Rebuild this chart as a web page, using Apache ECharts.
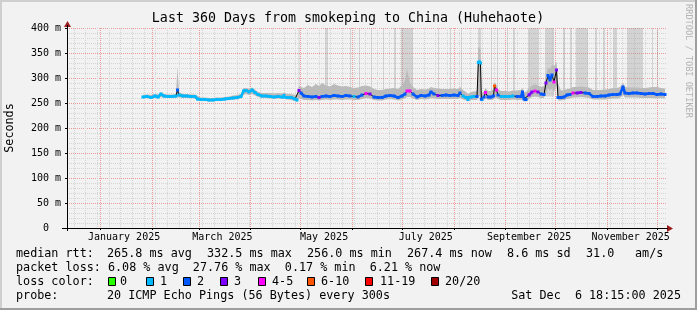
<!DOCTYPE html>
<html><head><meta charset="utf-8">
<script src="https://cdn.jsdelivr.net/npm/echarts@6/dist/echarts.min.js"></script>
<style>html,body{margin:0;padding:0;background:#f2f2f2}#c{width:697px;height:310px}</style>
</head><body><div id="c"></div>
<script>
// ---------- time frame ----------
const START = Date.UTC(2024, 11, 11, 18, 15);   // 360 days before Sat Dec 6 18:15 2025
const SPAN_DAYS = 360;
function dayOf(s) { return (Date.parse(s + 'T00:00:00Z') - START) / 864e5; }

// ---------- axis labels ----------
const xLabelDates = ['2025-01-15', '2025-03-15', '2025-05-15', '2025-07-15', '2025-09-15', '2025-11-15'];
const xLabelTexts = ['January 2025', 'March 2025', 'May 2025', 'July 2025', 'September 2025', 'November 2025'];
const monthStarts = ['2025-01-01', '2025-02-01', '2025-03-01', '2025-04-01', '2025-05-01', '2025-06-01',
  '2025-07-01', '2025-08-01', '2025-09-01', '2025-10-01', '2025-11-01', '2025-12-01'];
const firstWeekLine = '2024-12-16';
const yMax = 400, yStep = 50;

// ---------- data (days since start, ms) ----------
const days = [45.6,48.0,50.4,52.8,54.6,56.4,58.2,60.6,63.0,65.4,
  66.3,67.2,69.6,72.0,74.4,76.8,78.3,80.4,82.8,85.2,
  87.6,90.0,92.4,94.8,97.2,99.6,102.0,104.4,105.9,107.4,
  109.2,111.0,112.8,114.6,117.0,119.4,121.8,124.2,126.6,129.0,
  130.2,132.0,134.4,136.8,138.0,139.2,140.4,142.2,144.6,147.0,
  149.4,151.2,153.0,155.4,157.8,160.2,162.6,165.0,167.4,169.8,
  172.2,174.6,177.0,179.4,181.8,184.2,186.6,189.0,191.4,193.8,
  196.2,198.6,201.0,202.8,204.0,205.8,207.6,210.0,212.4,214.8,
  217.2,218.4,220.2,222.6,225.0,227.4,229.8,232.2,234.6,235.8,
  237.6,239.4,240.6,242.4,244.2,246.0,246.8,247.4,248.1,248.6,
  249.0,250.2,251.1,252.6,254.4,255.9,256.5,257.7,258.6,260.4,
  262.8,265.2,267.6,270.0,272.4,273.3,274.2,275.4,277.2,279.0,
  280.8,282.6,284.4,286.2,287.4,288.6,289.8,291.0,292.2,293.7,
  294.6,296.4,298.2,300.0,301.8,303.6,306.0,308.4,310.8,313.2,
  315.6,318.0,320.4,322.8,325.2,327.6,330.0,331.8,333.6,334.8,
  337.2,339.6,342.0,344.4,346.8,349.2,351.6,354.0,356.4,358.8];
const median = [262,263,261,264,262,268,264,263,263,264,
  276,266,264,264,263,263,258,257,257,256,
  256,257,257,258,259,260,261,263,274,275,
  272,276,271,267,264,264,263,262,263,262,
  265,261,261,258,256,275,270,264,263,262,
  263,261,263,264,263,265,264,263,265,264,
  263,262,266,269,268,262,261,261,264,265,
  264,261,264,268,274,274,268,262,265,264,
  266,272,268,265,265,266,265,266,265,270,
  264,261,257,262,263,263,331,332.5,330,258,
  257,262,271,262,262,264,284,276,266,263,
  263,263,264,263,263,272,258,257,266,272,
  274,272,268,267,290,305,296,306,292,316,
  261,261,262,266,267,270,270,271,270,269,
  263,263,264,264,266,267,267,268,282,270,
  269,270,270,269,268,269,269,267,268,267];
// loss class index: 0:"0" 1:"1" 2:"2" 3:"3" 4:"4-5" 5:"6-10" 6:"11-19" 7:"20/20"
const lossCat = [1,1,1,1,1,1,1,1,1,1,
  2,1,1,1,1,1,1,1,1,1,
  1,1,1,1,1,1,1,1,1,1,
  1,1,1,1,1,1,1,1,1,1,
  1,1,1,1,1,3,2,2,2,2,
  2,3,2,2,2,2,2,2,2,2,
  1,2,2,4,3,2,2,2,2,2,
  2,2,2,2,4,4,2,2,2,2,
  2,2,2,3,2,2,2,2,2,2,
  1,1,1,1,1,2,1,1,1,2,
  1,2,4,2,2,2,5,4,2,1,
  1,1,1,2,2,2,2,2,3,3,
  4,3,2,2,3,2,2,2,4,3,
  2,2,2,2,2,4,3,3,2,2,
  2,2,2,2,2,2,2,2,2,2,
  2,2,2,2,2,2,2,2,2,2];
const smokeLo = [259,260,258,260,259,262,260,260,260,260,
  262,261,260,260,260,259,255,254,254,253,
  253,254,254,255,256,257,257,259,266,268,
  266,268,265,262,260,260,259,258,259,258,
  259,257,256,254,252,260,258,256,256,255,
  256,255,256,257,256,257,257,256,257,257,
  256,256,258,260,259,256,255,255,257,258,
  257,255,257,259,262,262,259,256,258,257,
  258,260,259,258,258,258,258,258,258,260,
  257,255,253,256,256,256,262,265,262,253,
  253,256,260,256,256,257,262,260,258,256,
  256,256,257,256,256,258,253,253,258,262,
  263,262,260,260,270,280,275,280,272,285,
  255,255,256,258,259,261,261,262,261,260,
  257,257,257,257,258,259,259,260,266,261,
  261,261,261,260,260,260,260,259,260,259];
const smokeHi = [266,267,266,268,267,272,268,267,267,268,
  322,272,268,268,267,267,264,261,261,260,
  260,261,261,262,263,265,266,268,280,280,
  279,281,277,272,270,270,270,269,270,269,
  271,268,268,266,264,284,282,280,286,282,
  288,284,290,285,283,288,285,283,284,282,
  280,281,284,285,283,278,276,276,278,279,
  280,278,285,295,318,290,282,276,278,277,
  279,282,280,279,278,278,278,279,278,282,
  276,272,268,272,273,274,360,362,358,272,
  270,274,280,274,274,278,292,286,278,274,
  274,273,275,275,276,280,272,272,280,285,
  287,285,282,284,305,320,318,326,324,332,
  290,275,276,278,279,282,282,283,282,281,
  276,276,276,277,278,280,280,282,290,282,
  281,281,281,280,280,281,282,282,280,279];
// periods where the smoke reaches beyond the top of the graph (days since start)
const colStart = [138.9,154.8,169.8,175.2,182.4,189.6,196.2,200.4,222.6,229.8,236.4,246.6,254.4,258.0,
  264.0,267.6,276.6,286.8,297.6,301.8,305.4,316.8,321.6,327.6,336.0,351.0,354.0];
const colEnd = [139.5,156.6,170.4,175.8,183.0,190.2,197.4,207.6,223.2,230.4,237.0,248.4,255.0,258.6,
  264.6,268.8,283.2,292.2,298.8,303.0,312.6,318.0,322.8,330.0,345.6,351.6,354.6];
const colBase = 263;

const lossLabels = ['0', '1', '2', '3', '4-5', '6-10', '11-19', '20/20'];
const lossColors = ['#26ff00', '#00b8ff', '#0059ff', '#7e00ff', '#ff00ff', '#ff5500', '#ff0000', '#a10000'];

const legendRtt = ['median rtt:', '265.8 ms avg', '332.5 ms max', '256.0 ms min', '267.4 ms now', '8.6 ms sd', '31.0', 'am/s'];
const legendLoss = 'packet loss: 6.08 % avg  27.76 % max  0.17 % min  6.21 % now';
const probeText = ['probe:', '20 ICMP Echo Pings (56 Bytes) every 300s', 'Sat Dec  6 18:15:00 2025'];
const titleText = 'Last 360 Days from smokeping to China (Huhehaote)';

// ---------- layout ----------
const MONO = '"DejaVu Sans Mono", monospace';
const LFONT = '11.75px ' + MONO;
const GL = 67, GT = 28, GW = 600, GH = 200;
const labelDays = xLabelDates.map(dayOf);
const monthDays = monthStarts.map(dayOf);
const weekDays = [];
for (let d = dayOf(firstWeekLine); d < SPAN_DAYS; d += 7) weekDays.push(d);

const chart = echarts.init(document.getElementById('c'), null, {renderer: 'canvas'});

const series = [];
series.push({
  type: 'custom', xAxisIndex: 1, z: 1, silent: true, clip: true,
  data: colStart.map((s, i) => [s, colEnd[i]]),
  renderItem: function (params, api) {
    const p0 = api.coord([api.value(0), yMax]);
    const p1 = api.coord([api.value(1), colBase]);
    return {type: 'rect', shape: {x: p0[0], y: p0[1], width: Math.max(1, p1[0] - p0[0]), height: p1[1] - p0[1]},
      style: {fill: 'rgba(150,150,150,0.33)'}};
  }
});
// smoke band as one polygon built through the axes
series.push({
  type: 'custom', xAxisIndex: 1, z: 2, silent: true, clip: true,
  data: [[days[0], smokeLo[0]]],
  renderItem: function (params, api) {
    const pts = [];
    for (let i = 0; i < days.length; i++) pts.push(api.coord([days[i], smokeHi[i]]));
    for (let i = days.length - 1; i >= 0; i--) pts.push(api.coord([days[i], smokeLo[i]]));
    return {type: 'polygon', shape: {points: pts}, style: {fill: '#bababa'}};
  }
});
series.push({
  type: 'line', xAxisIndex: 1, z: 3, symbol: 'none', silent: true,
  lineStyle: {color: '#000', width: 1},
  data: days.map((d, i) => [d, median[i]])
});
for (let c = 0; c < lossColors.length; c++) {
  if (!lossCat.includes(c)) continue;
  series.push({
    type: 'line', xAxisIndex: 1, z: 4, silent: true, connectNulls: false,
    symbol: 'rect', symbolSize: [3, 3], showSymbol: true,
    itemStyle: {color: lossColors[c]},
    lineStyle: {color: lossColors[c], width: 2.5},
    data: days.map((d, i) => [d, lossCat[i] === c ? median[i] : null])
  });
}

const graphic = [];
function txt(x, y, text, extra) {
  graphic.push(Object.assign({type: 'text', x: x, y: y, silent: true,
    style: Object.assign({text: text, font: LFONT, fill: '#000', verticalAlign: 'middle', textVerticalAlign: 'middle'},
      (extra && extra.style) || {})}, (extra && extra.el) || {}));
}
// frame
graphic.push({type: 'rect', shape: {x: 0, y: 0, width: 697, height: 2}, style: {fill: '#cfcfcf'}, silent: true});
graphic.push({type: 'rect', shape: {x: 0, y: 0, width: 2, height: 310}, style: {fill: '#cfcfcf'}, silent: true});
graphic.push({type: 'rect', shape: {x: 695, y: 0, width: 2, height: 310}, style: {fill: '#9e9e9e'}, silent: true});
graphic.push({type: 'rect', shape: {x: 0, y: 308, width: 697, height: 2}, style: {fill: '#9e9e9e'}, silent: true});
// title
txt(348, 19, titleText, {style: {font: '13.3px ' + MONO, align: 'center', textAlign: 'center'}});
// y name
txt(10, 128, 'Seconds', {style: {align: 'center', textAlign: 'center'}, el: {rotation: Math.PI / 2}});
// watermark
txt(688, 61, 'RRDTOOL / TOBI OETIKER', {style: {align: 'center', textAlign: 'center', font: '8.6px ' + MONO, fill: '#b4b4b4'}, el: {rotation: -Math.PI / 2}});
// axis lines and arrows
graphic.push({type: 'line', shape: {x1: 62, y1: 228.5, x2: 668, y2: 228.5}, style: {stroke: '#000', lineWidth: 1}, silent: true, z: 10});
graphic.push({type: 'line', shape: {x1: 67.5, y1: 231, x2: 67.5, y2: 25}, style: {stroke: '#000', lineWidth: 1}, silent: true, z: 10});
graphic.push({type: 'polygon', shape: {points: [[667, 225], [667, 232], [673, 228.5]]}, style: {fill: '#9c1c1c'}, silent: true});
graphic.push({type: 'polygon', shape: {points: [[64, 27], [71, 27], [67.5, 21]]}, style: {fill: '#9c1c1c'}, silent: true});
// legend rows
const rttX = [16, 107, 207, 307, 407, 507, 586, 635];
legendRtt.forEach((t, i) => txt(rttX[i], 254, t));
txt(16, 268, legendLoss);
txt(16, 282, 'loss color:');
const boxX = [108, 146, 183, 220, 258, 307, 365, 431];
const boxLabelX = [120, 160, 197, 234, 272, 321, 380, 445];
lossLabels.forEach((t, i) => {
  graphic.push({type: 'rect', shape: {x: boxX[i] + 0.5, y: 277.5, width: 7, height: 8},
    style: {fill: lossColors[i], stroke: '#000', lineWidth: 1}, silent: true});
  txt(boxLabelX[i], 282, t);
});
txt(16, 296, probeText[0]);
txt(107, 296, probeText[1]);
txt(681, 296, probeText[2], {style: {align: 'right', textAlign: 'right'}});

chart.setOption({
  animation: false,
  backgroundColor: '#f2f2f2',
  grid: {left: GL, top: GT, width: GW, height: GH, containLabel: false},
  xAxis: [
    { // weekly minor grid
      type: 'value', min: 0, max: SPAN_DAYS, z: 0, position: 'bottom',
      axisLine: {show: false}, axisLabel: {show: false},
      axisTick: {show: false, customValues: weekDays},
      splitLine: {show: true, lineStyle: {color: '#d4d4d4', width: 1, type: [1, 1]}}
    },
    { // monthly major grid + labels
      type: 'value', min: 0, max: SPAN_DAYS, z: 1, position: 'bottom', offset: 0,
      axisLine: {show: false},
      axisTick: {show: true, customValues: monthDays, length: 2, lineStyle: {color: '#000'}},
      axisLabel: {
        show: true, customValues: labelDays, margin: 4,
        fontFamily: MONO, fontSize: 10, color: '#000',
        formatter: function (v) {
          for (let i = 0; i < labelDays.length; i++) if (Math.abs(labelDays[i] - v) < 1e-6) return xLabelTexts[i];
          return '';
        }
      },
      splitLine: {show: true, lineStyle: {color: '#eb9a9a', width: 1, type: [1, 1]}}
    }
  ],
  yAxis: {
    type: 'value', min: 0, max: yMax, interval: yStep,
    axisLine: {show: false},
    axisTick: {show: true, length: 2, lineStyle: {color: '#000'}},
    axisLabel: {margin: 6, fontFamily: MONO, fontSize: 10, color: '#000',
      formatter: v => (v === 0 ? '0  ' : v + ' m')},
    splitLine: {show: true, lineStyle: {color: '#eb9a9a', width: 1, type: [1, 1]}},
    minorTick: {show: false, splitNumber: 5},
    minorSplitLine: {show: true, lineStyle: {color: '#d4d4d4', width: 1, type: [1, 1]}}
  },
  series: series,
  graphic: graphic
});
</script></body></html>
